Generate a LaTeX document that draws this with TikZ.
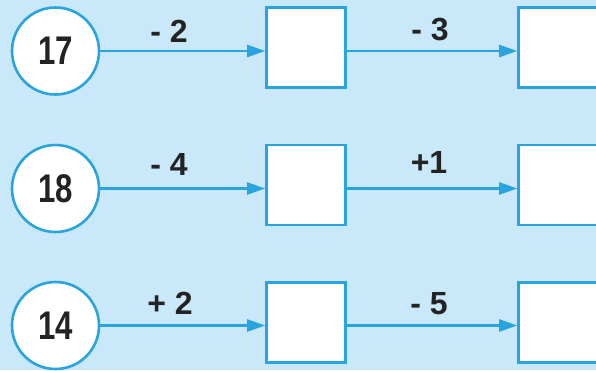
\documentclass[tikz,border=0pt]{standalone}
\usepackage{fontspec}
\setmainfont{Liberation Sans}
\usetikzlibrary{arrows.meta}
\definecolor{bg}{RGB}{201,233,250}
\definecolor{ln}{RGB}{42,164,222}
\definecolor{tx}{RGB}{35,35,35}
\begin{document}
\begin{tikzpicture}[x=1pt,y=-1pt,
  num/.style={circle, draw=ln, line width=2.6pt, fill=white, minimum size=87pt, inner sep=0pt,
    text=tx, font=\fontsize{40}{40}\selectfont\bfseries},
  box/.style={draw=ln, line width=2.6pt, fill=white, minimum width=79pt, minimum height=80pt, inner sep=0pt},
  conn/.style={draw=ln, line width=2.4pt, -{Triangle[length=18pt,width=12pt]}},
  lab/.style={text=tx, font=\fontsize{32}{32}\selectfont\bfseries, inner sep=0pt}
]
\fill[bg] (0,0) rectangle (596,370);
\useasboundingbox (0,0) rectangle (596,370);
\clip (0,0) rectangle (596,370);

% row 1
\node[num] (c1) at (55.5,51) {\scalebox{0.78}[1]{17}};
\node[box] (a1) at (306,47.5) {};
\node[box] (b1) at (558,47.5) {};
\draw[conn] (c1.east) -- (c1.east -| a1.west);
\draw[conn] (a1.east |- c1.east) -- (c1.east -| b1.west);
\node[lab] (p1) at (169,31) {- 2};
\node[lab] (q1) at (430,30) {- 3};

% row 2
\node[num] (c2) at (55.5,188.5) {\scalebox{0.78}[1]{18}};
\node[box] (a2) at (306,185) {};
\node[box] (b2) at (558,185) {};
\draw[conn] (c2.east) -- (c2.east -| a2.west);
\draw[conn] (a2.east |- c2.east) -- (c2.east -| b2.west);
\node[lab] (p2) at (169,164) {- 4};
\node[lab] (q2) at (429,162) {+1};

% row 3
\node[num] (c3) at (55.5,325.5) {\scalebox{0.78}[1]{14}};
\node[box] (a3) at (306,322.5) {};
\node[box] (b3) at (558,322.5) {};
\draw[conn] (c3.east) -- (c3.east -| a3.west);
\draw[conn] (a3.east |- c3.east) -- (c3.east -| b3.west);
\node[lab] (p3) at (170,303) {+ 2};
\node[lab] (q3) at (429,304) {- 5};
\end{tikzpicture}
\end{document}
